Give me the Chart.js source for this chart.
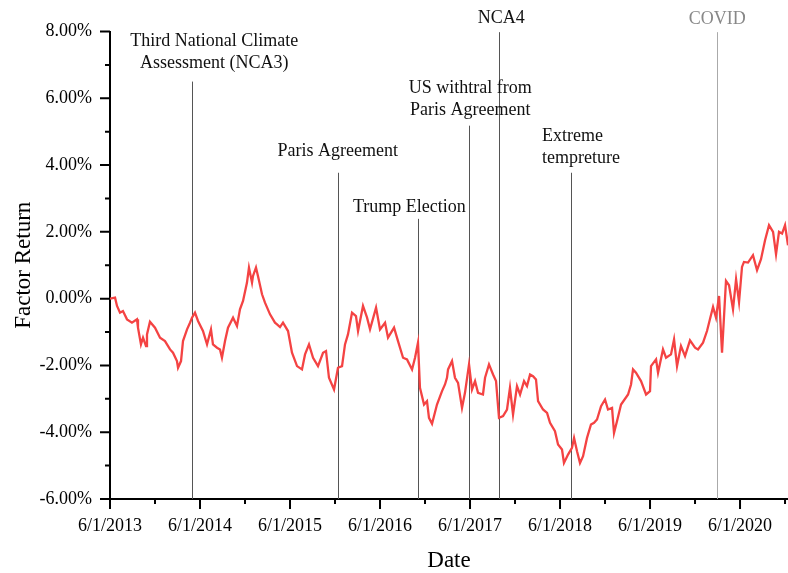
<!DOCTYPE html>
<html>
<head>
<meta charset="utf-8">
<script src="https://cdn.jsdelivr.net/npm/chart.js@4/dist/chart.umd.min.js"></script>
<style>
  html, body { margin: 0; padding: 0; background: #fff; }
  canvas { display: block; }
</style>
</head>
<body>
<canvas id="chart" width="788" height="573"></canvas>
<script>
// Time of each observation, in years elapsed since 6/1/2013
const yearsSinceStart = [
  0, 0.056, 0.078, 0.111, 0.144, 0.189, 0.244, 0.300, 0.311, 0.344, 0.367, 0.400, 0.411, 0.444, 0.500,
  0.556, 0.611, 0.667, 0.700, 0.744, 0.756, 0.789, 0.811, 0.856, 0.889, 0.911, 0.944, 0.978, 1.033, 1.078,
  1.122, 1.144, 1.189, 1.222, 1.244, 1.278, 1.311, 1.367, 1.411, 1.444, 1.478, 1.522, 1.544, 1.578, 1.589,
  1.622, 1.644, 1.689, 1.722, 1.778, 1.833, 1.856, 1.889, 1.922, 1.978, 2.022, 2.078, 2.133, 2.167, 2.211,
  2.256, 2.311, 2.367, 2.400, 2.433, 2.489, 2.533, 2.578, 2.611, 2.644, 2.689, 2.733, 2.756, 2.811, 2.856,
  2.889, 2.956, 3.000, 3.056, 3.089, 3.156, 3.200, 3.256, 3.300, 3.356, 3.389, 3.422, 3.444, 3.489, 3.522,
  3.544, 3.578, 3.633, 3.689, 3.722, 3.744, 3.756, 3.800, 3.833, 3.867, 3.911, 3.944, 3.989, 4.022, 4.056,
  4.089, 4.144, 4.167, 4.211, 4.256, 4.289, 4.322, 4.367, 4.411, 4.444, 4.478, 4.522, 4.556, 4.600, 4.633,
  4.667, 4.700, 4.733, 4.756, 4.811, 4.856, 4.889, 4.944, 4.978, 5.022, 5.044, 5.089, 5.133, 5.156, 5.189,
  5.222, 5.256, 5.300, 5.344, 5.378, 5.411, 5.456, 5.500, 5.533, 5.578, 5.600, 5.633, 5.678, 5.756, 5.789,
  5.811, 5.844, 5.900, 5.956, 6.000, 6.011, 6.067, 6.089, 6.144, 6.178, 6.233, 6.267, 6.300, 6.344, 6.389,
  6.444, 6.500, 6.533, 6.589, 6.633, 6.667, 6.700, 6.733, 6.767, 6.800, 6.844, 6.878, 6.922, 6.956, 6.989,
  7.022, 7.044, 7.089, 7.144, 7.189, 7.233, 7.278, 7.322, 7.367, 7.400, 7.433, 7.467, 7.500, 7.533
];

// Cumulative factor return, in percent
const factorReturn = [
  0.00, 0.03, -0.22, -0.42, -0.37, -0.62, -0.72, -0.62, -0.87, -1.37, -1.17, -1.42, -1.07, -0.69, -0.87,
  -1.17, -1.27, -1.52, -1.62, -1.87, -2.07, -1.87, -1.27, -0.92, -0.72, -0.57, -0.42, -0.67, -0.97, -1.37,
  -0.92, -1.37, -1.47, -1.52, -1.77, -1.27, -0.87, -0.57, -0.82, -0.32, -0.07, 0.48, 0.93, 0.48, 0.68,
  0.93, 0.68, 0.13, -0.12, -0.47, -0.72, -0.77, -0.85, -0.72, -0.97, -1.62, -2.02, -2.12, -1.67, -1.37,
  -1.77, -2.02, -1.62, -1.57, -2.37, -2.72, -2.07, -2.02, -1.37, -1.07, -0.42, -0.52, -0.97, -0.22, -0.57,
  -0.92, -0.27, -0.92, -0.72, -1.17, -0.87, -1.27, -1.77, -1.82, -2.12, -1.77, -1.32, -2.67, -3.17, -3.07,
  -3.57, -3.75, -3.17, -2.77, -2.57, -2.37, -2.12, -1.87, -2.37, -2.52, -3.27, -2.82, -1.97, -2.72, -2.47,
  -2.82, -2.87, -2.37, -1.97, -2.27, -2.47, -3.57, -3.52, -3.32, -2.67, -3.47, -2.62, -2.87, -2.47, -2.62,
  -2.27, -2.32, -2.42, -3.07, -3.32, -3.42, -3.72, -3.97, -4.37, -4.52, -4.92, -4.67, -4.47, -4.17, -4.57,
  -4.92, -4.72, -4.17, -3.77, -3.72, -3.62, -3.22, -3.02, -3.32, -3.27, -4.02, -3.67, -3.17, -2.87, -2.57,
  -2.12, -2.22, -2.47, -2.87, -2.77, -2.02, -1.82, -2.22, -1.52, -1.77, -1.67, -1.22, -2.02, -1.42, -1.72,
  -1.25, -1.47, -1.52, -1.32, -0.97, -0.60, -0.25, -0.57, 0.08, -1.62, 0.53, 0.40, -0.32, 0.58, -0.10,
  0.95, 1.10, 1.08, 1.30, 0.85, 1.18, 1.75, 2.20, 2.00, 1.33, 2.00, 1.95, 2.20, 1.60
];

// Axis ticks
const xTickYears = [0, 1, 2, 3, 4, 5, 6, 7];
const xTickLabels = ['6/1/2013', '6/1/2014', '6/1/2015', '6/1/2016', '6/1/2017', '6/1/2018', '6/1/2019', '6/1/2020'];
const yTickValues = [-6, -4, -2, 0, 2, 4, 6, 8];

// Event markers: label lines, time (years since 6/1/2013), and the return level where each marker begins
const eventLabels = [
  ['Third National Climate', 'Assessment (NCA3)'],
  ['Paris Agreement'],
  ['Trump Election'],
  ['US withtral from', 'Paris Agreement'],
  ['NCA4'],
  ['Extreme', 'tempreture'],
  ['COVID']
];
const eventYears = [0.915, 2.530, 3.426, 3.992, 4.326, 5.122, 6.748];
const eventLineTop = [6.5, 3.77, 2.39, 5.18, 7.98, 3.77, 7.98];

// Label placement around each marker (pixel offsets from the top of the marker line)
const eventLabelStyle = [
  { dx: 22, gap: 18, align: 'center', color: '#111', line: '#555' },
  { dx: 0, gap: 21, align: 'center', color: '#111', line: '#555' },
  { dx: -9, gap: 12, align: 'center', color: '#111', line: '#555' },
  { dx: 1, gap: 15, align: 'center', color: '#111', line: '#555' },
  { dx: 2, gap: 14, align: 'center', color: '#111', line: '#555' },
  { dx: -29, gap: 14, align: 'left', color: '#111', line: '#555' },
  { dx: 0, gap: 13, align: 'center', color: '#888', line: '#aaa' }
];

const SERIF = '"Liberation Serif", "Times New Roman", serif';

const eventPlugin = {
  id: 'eventMarkers',
  beforeDatasetsDraw(chart) {
    const { ctx, scales: { x, y }, chartArea } = chart;
    ctx.save();
    eventYears.forEach((yr, i) => {
      const px = Math.round(x.getPixelForValue(yr)) + 0.5;
      const top = y.getPixelForValue(eventLineTop[i]);
      ctx.strokeStyle = eventLabelStyle[i].line;
      ctx.lineWidth = 1;
      ctx.beginPath();
      ctx.moveTo(px, top);
      ctx.lineTo(px, chartArea.bottom);
      ctx.stroke();
    });
    ctx.restore();
  },
  afterDraw(chart) {
    const { ctx, scales: { x, y }, chartArea } = chart;
    ctx.save();
    // event labels
    ctx.font = '18px ' + SERIF;
    ctx.textBaseline = 'middle';
    eventYears.forEach((yr, i) => {
      const st = eventLabelStyle[i];
      const px = x.getPixelForValue(yr) + st.dx;
      const top = y.getPixelForValue(eventLineTop[i]);
      const lines = eventLabels[i];
      ctx.fillStyle = st.color;
      ctx.textAlign = st.align;
      lines.forEach((t, k) => {
        const ly = top - st.gap - (lines.length - 1 - k) * 22;
        ctx.fillText(t, px, ly);
      });
    });
    // tick marks: major and minor on both axes
    ctx.strokeStyle = '#000';
    ctx.lineWidth = 2;
    const bx = chartArea.left, by = chartArea.bottom;
    ctx.beginPath();
    xTickYears.forEach(v => {
      const px = x.getPixelForValue(v);
      ctx.moveTo(px, by); ctx.lineTo(px, by + 10);
      const mx = x.getPixelForValue(v + 0.5);
      if (mx <= chartArea.right + 1) { ctx.moveTo(mx, by); ctx.lineTo(mx, by + 5); }
    });
    yTickValues.forEach((v, i) => {
      const py = y.getPixelForValue(v);
      ctx.moveTo(bx, py); ctx.lineTo(bx - 10, py);
      if (i < yTickValues.length - 1) {
        const my = y.getPixelForValue(v + 1);
        ctx.moveTo(bx, my); ctx.lineTo(bx - 5, my);
      }
    });
    ctx.stroke();
    ctx.restore();
  }
};

new Chart(document.getElementById('chart'), {
  type: 'line',
  data: {
    datasets: [{
      data: yearsSinceStart.map((t, i) => ({ x: t, y: factorReturn[i] })),
      borderColor: '#f44343',
      borderWidth: 2.3,
      pointRadius: 0,
      tension: 0,
      fill: false
    }]
  },
  options: {
    responsive: false,
    animation: false,
    layout: { padding: { top: 31.5, right: 0, bottom: 0, left: 0 } },
    plugins: { legend: { display: false }, tooltip: { enabled: false } },
    scales: {
      x: {
        type: 'linear',
        min: 0,
        max: 7.533,
        afterBuildTicks: s => { s.ticks = xTickYears.map(v => ({ value: v })); },
        afterFit: s => { s.height = 74; },
        ticks: {
          autoSkip: false,
          maxRotation: 0,
          padding: 6,
          color: '#000',
          font: { family: SERIF, size: 18 },
          callback: (v) => xTickLabels[xTickYears.indexOf(v)]
        },
        grid: { drawOnChartArea: false, drawTicks: true, tickLength: 10, color: 'rgba(0,0,0,0)' },
        border: { display: true, color: '#000', width: 2 },
        title: { display: true, text: 'Date', color: '#000', font: { family: SERIF, size: 23 }, padding: { top: 0, bottom: -2 } }
      },
      y: {
        min: -6,
        max: 8,
        afterBuildTicks: s => { s.ticks = yTickValues.map(v => ({ value: v })); },
        afterFit: s => { s.width = 110; },
        ticks: {
          padding: 8,
          color: '#000',
          font: { family: SERIF, size: 18 },
          callback: (v) => v.toFixed(2) + '%'
        },
        grid: { drawOnChartArea: false, drawTicks: true, tickLength: 10, color: 'rgba(0,0,0,0)' },
        border: { display: true, color: '#000', width: 2 },
        title: { display: true, text: 'Factor Return', color: '#000', font: { family: SERIF, size: 23 }, padding: { top: 10, bottom: 0 } }
      }
    }
  },
  plugins: [eventPlugin]
});
</script>
</body>
</html>
